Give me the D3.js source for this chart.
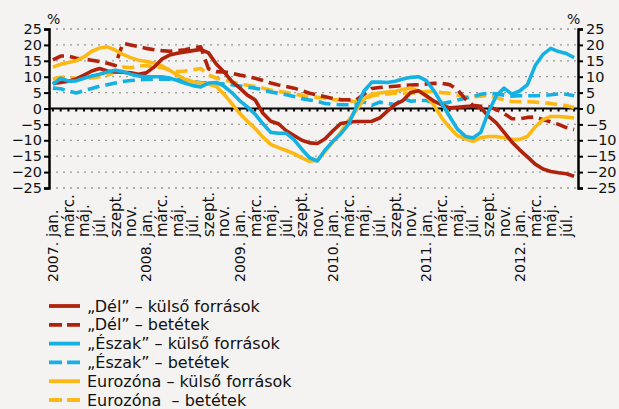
<!DOCTYPE html>
<html>
<head>
<meta charset="utf-8">
<script src="https://cdn.jsdelivr.net/npm/d3@7"></script>
<style>
  body { margin: 0; background: #f4f3f1; }
  svg { display: block; font-family: "DejaVu Sans", sans-serif; }
</style>
</head>
<body>
<div id="chart"></div>
<script>
// monthly data, 2007 jan .. 2012 aug
var years = ["2007.", "2008.", "2009.", "2010.", "2011.", "2012."];
var monthLabels = ["jan.", "márc.", "máj.", "júl.", "szept.", "nov."];

var delKulso = [7.9, 8.2, 8.6, 9.3, 10.5, 11.8, 12.6, 11.8, 11.5, 11.4, 11.2, 10.8,
  11.2, 13, 15.5, 16.8, 17.4, 17.8, 18.2, 18.6, 17.5, 14, 11.5, 8.5,
  6.5, 4.2, 2.7, -1.5, -4, -4.8, -7, -8.5, -10, -10.8, -11, -9.5,
  -7, -4.7, -4.3, -4.1, -4.1, -4, -3, -0.8, 1.3, 2.5, 5, 5.6,
  4, 2.3, 1.1, 0.2, 0.4, 0.6, 0.8, 0.3, -2.5, -4.5, -7.5, -10.5,
  -13, -15.2, -17.5, -19, -19.8, -20.2, -20.5, -21.3];
var delBetet = [15.3, 16.5, 16.5, 15.8, 15.5, 15.2, 14.8, 14.2, 13.5, 20.5, 20, 19.5,
  18.9, 18.5, 18.2, 18, 18.2, 18.5, 19, 19.4, 12.5, 11.6, 11.5, 11.1,
  10.5, 10, 9.5, 8.8, 8, 7.4, 6.9, 6.4, 5.6, 4.8, 4.2, 3.7,
  3.1, 2.8, 2.7, 2.7, 4.5, 6.3, 6.6, 6.8, 7, 7.2, 7.4, 7.5,
  7.7, 7.9, 7.9, 7.5, 6, 3, 1, 0.7, 0.6, -0.3, -1.6, -3.2,
  -3.2, -2.8, -2.7, -3.5, -4.2, -5, -6, -6.6];
var eszakKulso = [7.6, 9.5, 8.6, 8.7, 9.5, 10.2, 10.8, 11.5, 12, 11.6, 10.8, 10.2,
  10, 10, 10, 9.6, 8.8, 7.9, 7.2, 6.8, 8, 8.2, 7, 5,
  2.5, 0.5, -1.8, -4.8, -7.5, -7.8, -7.8, -9.8, -12.8, -15.5, -16.5, -13,
  -10.3, -8, -5, 0.5, 5.5, 8.3, 8.3, 8.2, 8.6, 9.3, 9.8, 10,
  8.8, 5.5, 1.5, -2.5, -6.5, -8.7, -9.3, -7.5, -1, 4, 6.4, 4.5,
  5.5, 7.5, 13.5, 17, 18.9, 17.9, 17.3, 16];
var eszakBetet = [6.4, 6.2, 5.5, 4.9, 5.6, 6.3, 7, 7.5, 8, 8.5, 8.8, 9,
  9.1, 9.2, 9.2, 9.2, 9.1, 8.8, 8.5, 8.2, 8, 7.9, 7.7, 7.5,
  7.1, 6.7, 6.4, 5.8, 5.2, 4.8, 4.3, 3.8, 3.1, 2.7, 2.2, 1.6,
  1.3, 1.2, 1.2, 1.3, 2, 1, 2, 1.6, 1.2, 3.2, 2.3, 2.5,
  2.5, 1.8, 1.6, 2, 2.7, 3.2, 3.7, 4.5, 4.8, 4.6, 4.2, 3.9,
  4, 4, 4, 4.1, 4.3, 4.6, 4.5, 4];
var euroKulso = [13, 13.9, 14.5, 15, 16.2, 18, 19, 19.4, 18.4, 17, 16, 15.2,
  14.8, 14.3, 13.4, 12, 10.5, 9.2, 8.4, 8, 7.6, 6.9, 4.5, 1.5,
  -1.5, -4, -6.3, -9, -11.3, -12.3, -13.2, -14.2, -15.5, -16.6, -16.3, -13.5,
  -10.5, -7.5, -3.8, -0.5, 3, 4.5, 4.9, 5.2, 5.4, 6, 6.4, 5.5,
  3.9, 1, -3, -6, -8.5, -9.5, -10.3, -9.2, -8.8, -8.8, -9.2, -9.8,
  -9.7, -8.8, -5.8, -3.5, -2.5, -2.5, -2.7, -3];
var euroBetet = [9.3, 9.8, 9.8, 9.5, 9.4, 9.6, 10, 10.4, 11.5, 13, 12.8, 13.3,
  13.5, 13.1, 12.8, 12.2, 11.6, 11.8, 12.2, 12.6, 10.5, 9.6, 9, 8.4,
  7.8, 7.3, 6.9, 6.4, 5.8, 5.4, 5, 4.6, 4.1, 3.7, 3.5, 3.2,
  2.8, 2.6, 2.4, 2.2, 3, 4, 4.4, 4.6, 4.8, 4.8, 4.8, 5.1,
  5.3, 5.3, 5, 4.8, 4.2, 3.7, 3.7, 3.9, 4.2, 3.4, 2.7, 2.2,
  2.1, 2.1, 2, 1.8, 1.6, 1.2, 0.9, 0.3];

var red = "#b0220c", cyan = "#14b1e3", yellow = "#fdb913";

var series = [
  { name: "„Dél” – külső források", values: delKulso, color: red, dash: null },
  { name: "„Dél” – betétek", values: delBetet, color: red, dash: "12,6" },
  { name: "„Észak” – külső források", values: eszakKulso, color: cyan, dash: null },
  { name: "„Észak” – betétek", values: eszakBetet, color: cyan, dash: "12,6" },
  { name: "Eurozóna – külső források", values: euroKulso, color: yellow, dash: null },
  { name: "Eurozóna  – betétek", values: euroBetet, color: yellow, dash: "12,6" }
];

var width = 619, height = 409;
var plotLeft = 49, plotRight = 578, plotTop = 29, plotBottom = 188;

var x = d3.scaleBand()
    .domain(d3.range(delKulso.length))
    .range([plotLeft, plotRight]);
var cx = i => x(i) + x.bandwidth() / 2;

var y = d3.scaleLinear()
    .domain([-25, 25])
    .range([plotBottom, plotTop]);

var svg = d3.select("#chart").append("svg")
    .attr("width", width)
    .attr("height", height);

svg.append("rect")
    .attr("width", width)
    .attr("height", height)
    .attr("fill", "#f4f3f1");

// dotted grid
svg.append("g")
    .selectAll("line")
    .data(d3.range(-25, 26, 5).filter(v => v !== 0))
    .join("line")
    .attr("x1", plotLeft).attr("x2", plotRight)
    .attr("y1", d => y(d)).attr("y2", d => y(d))
    .attr("stroke", "#9a9a9a")
    .attr("stroke-width", 1.3)
    .attr("stroke-dasharray", "2,5");

// zero line with month ticks
var zeroAxis = svg.append("g")
    .attr("transform", "translate(0," + y(0) + ")")
    .call(d3.axisBottom(x).tickSize(3).tickFormat(""));
zeroAxis.select(".domain").remove();
zeroAxis.selectAll(".tick line").attr("stroke", "#000").attr("stroke-width", 2);
svg.append("line")
    .attr("x1", plotLeft).attr("x2", plotRight)
    .attr("y1", y(0)).attr("y2", y(0))
    .attr("stroke", "#000").attr("stroke-width", 2);

// y axes
var yTicks = d3.range(-25, 26, 5);
var yl = svg.append("g")
    .attr("transform", "translate(" + plotLeft + ",0)")
    .call(d3.axisLeft(y).tickValues(yTicks).tickSize(5).tickSizeOuter(5).tickPadding(2));
var yr = svg.append("g")
    .attr("transform", "translate(" + plotRight + ",0)")
    .call(d3.axisRight(y).tickValues(yTicks).tickSize(5).tickSizeOuter(5).tickPadding(3));
[yl, yr].forEach(g => {
  g.select(".domain").attr("stroke", "#000").attr("stroke-width", 2.5);
  g.selectAll(".tick line").attr("stroke", "#000").attr("stroke-width", 2);
  g.selectAll(".tick text").attr("font-size", 14.5).attr("fill", "#111")
    .attr("font-family", "DejaVu Sans, sans-serif");
});

svg.append("text").attr("x", 47).attr("y", 24).attr("font-size", 14).attr("fill", "#111").text("%");
svg.append("text").attr("x", 567).attr("y", 24).attr("font-size", 14).attr("fill", "#111").text("%");

// lines
var line = d3.line()
    .x((d, i) => cx(i))
    .y(d => y(d));

var order = [5, 3, 1, 4, 0, 2];
order.forEach(k => {
  var s = series[k];
  svg.append("path")
      .datum(s.values)
      .attr("fill", "none")
      .attr("stroke", s.color)
      .attr("stroke-width", 3.6)
      .attr("stroke-linejoin", "round")
      .attr("stroke-dasharray", s.dash)
      .attr("d", line);
});

// month labels
var monthAxis = svg.append("g")
    .attr("transform", "translate(0,237)")
    .call(d3.axisBottom(x)
        .tickValues(d3.range(0, delKulso.length, 2))
        .tickSize(0)
        .tickFormat(i => monthLabels[(i % 12) / 2]));
monthAxis.select(".domain").remove();
monthAxis.selectAll(".tick text")
    .attr("font-size", 15)
    .attr("fill", "#111")
    .attr("font-family", "DejaVu Sans, sans-serif")
    .attr("text-anchor", "start")
    .attr("transform", "rotate(-90)")
    .attr("x", 0).attr("y", 0).attr("dy", "0.36em");

var yearAxis = svg.append("g")
    .attr("transform", "translate(0,282)")
    .call(d3.axisBottom(x)
        .tickValues(d3.range(0, delKulso.length, 12))
        .tickSize(0)
        .tickFormat(i => years[i / 12]));
yearAxis.select(".domain").remove();
yearAxis.selectAll(".tick text")
    .attr("font-size", 14)
    .attr("fill", "#111")
    .attr("font-family", "DejaVu Sans, sans-serif")
    .attr("text-anchor", "start")
    .attr("transform", "rotate(-90)")
    .attr("x", 0).attr("y", 0).attr("dy", "0.36em");

// legend
var legend = svg.append("g");
series.forEach((s, k) => {
  var ly = 306 + k * 18.8;
  legend.append("line")
      .attr("x1", 49).attr("x2", 80)
      .attr("y1", ly).attr("y2", ly)
      .attr("stroke", s.color)
      .attr("stroke-width", 3.8)
      .attr("stroke-dasharray", s.dash ? "13,5" : null);
  legend.append("text")
      .attr("x", 87).attr("y", ly)
      .attr("dy", "0.35em")
      .attr("font-size", 16)
      .attr("fill", "#111")
      .style("white-space", "pre")
      .text(s.name);
});
</script>
</body>
</html>
